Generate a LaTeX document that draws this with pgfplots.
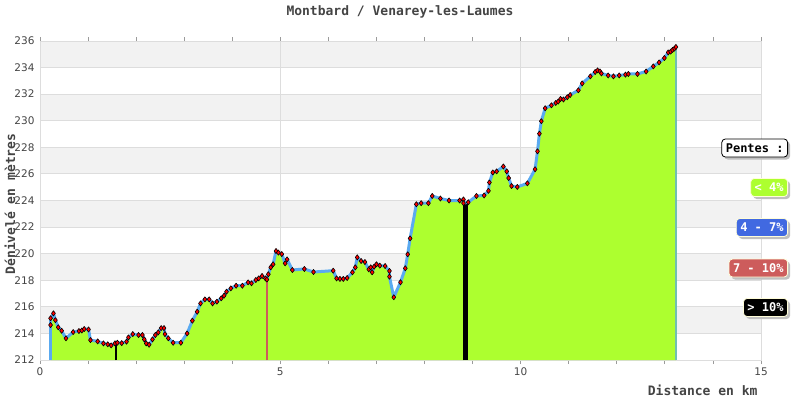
\documentclass[border=0pt]{standalone}
\usepackage{fontspec}
\setmainfont{DejaVu Sans}
\newfontfamily\monofont{DejaVu Sans Mono}
\usepackage{pgfplots}
\pgfplotsset{compat=1.18}
\usetikzlibrary{shadows}
\definecolor{fillgreen}{HTML}{ADFF2F}
\definecolor{lineblue}{HTML}{5AAAF0}
\definecolor{band}{HTML}{F2F2F2}
\definecolor{gridc}{HTML}{DDDDDD}
\definecolor{txt}{HTML}{444444}
\definecolor{redbar}{HTML}{CD5C5C}
\definecolor{royal}{HTML}{4169E1}
\definecolor{endline}{HTML}{70C0B0}
\pgfplotsset{set layers}
\tikzset{pill/.style={rounded corners=3.5pt, font=\monofont\bfseries\fontsize{12}{14}\selectfont, text=white, inner xsep=4pt, inner ysep=0pt, minimum height=18pt, anchor=east, draw=white!85!yellow, line width=0.8pt, drop shadow={shadow xshift=2.5pt, shadow yshift=-2.5pt, fill=black!25, opacity=1}}}
\begin{document}
\begin{tikzpicture}
\path (0pt,0pt) rectangle (800pt,400pt);
\begin{axis}[
  at={(40pt,40pt)}, anchor=south west, scale only axis,
  width=721pt, height=319pt,
  xmin=0, xmax=15, ymin=212, ymax=236,
  xtick={0,5,10,15}, minor xtick={1,2,3,4,6,7,8,9,11,12,13,14},
  ytick={212,214,...,236},
  xmajorgrids, ymajorgrids,
  grid style={draw=gridc, line width=1pt},
  tick align=outside, major tick length=4pt, minor tick length=4pt,
  ytick style={draw=none},
  xtick style={draw=gridc!70!black, line width=0.8pt},
  axis line style={draw=gridc, line width=1pt},
  tick label style={font=\fontsize{10.5}{12}\selectfont, text=txt},
  /pgf/number format/assume math mode=true,
  /pgf/number format/1000 sep={},
  yticklabel style={xshift=2pt},
  clip=false,
]
\begin{pgfonlayer}{axis background}
\fill[band] (axis cs:0,214) rectangle (axis cs:15,216);
\fill[band] (axis cs:0,218) rectangle (axis cs:15,220);
\fill[band] (axis cs:0,222) rectangle (axis cs:15,224);
\fill[band] (axis cs:0,226) rectangle (axis cs:15,228);
\fill[band] (axis cs:0,230) rectangle (axis cs:15,232);
\fill[band] (axis cs:0,234) rectangle (axis cs:15,236);
\end{pgfonlayer}
\addplot[fill=fillgreen, draw=none] table {
x y
0.22 214.63
0.22 215.14
0.28 215.51
0.32 215.00
0.38 214.46
0.45 214.20
0.54 213.63
0.69 214.10
0.81 214.18
0.87 214.22
0.92 214.33
1.01 214.30
1.05 213.50
1.20 213.40
1.32 213.25
1.41 213.18
1.48 213.10
1.56 213.25
1.61 213.30
1.70 213.27
1.80 213.38
1.84 213.70
1.93 213.95
2.05 213.88
2.13 213.88
2.17 213.55
2.21 213.25
2.27 213.15
2.34 213.55
2.40 213.88
2.46 214.08
2.52 214.40
2.58 214.40
2.60 213.95
2.67 213.63
2.77 213.30
2.93 213.30
3.06 214.00
3.17 214.96
3.27 215.63
3.34 216.26
3.43 216.56
3.52 216.56
3.59 216.26
3.68 216.39
3.77 216.64
3.83 216.84
3.88 217.14
3.97 217.39
4.08 217.59
4.21 217.59
4.33 217.84
4.40 217.77
4.49 218.02
4.55 218.14
4.62 218.32
4.69 218.14
4.72 218.05
4.75 218.45
4.80 218.97
4.85 219.20
4.91 220.20
4.96 220.08
5.03 219.97
5.10 219.27
5.14 219.57
5.25 218.77
5.50 218.85
5.69 218.62
6.10 218.72
6.17 218.14
6.24 218.10
6.31 218.10
6.39 218.17
6.50 218.60
6.56 218.97
6.60 219.72
6.68 219.45
6.76 219.37
6.84 218.82
6.88 218.97
6.91 218.60
6.95 219.02
7.00 219.20
7.07 219.10
7.18 219.07
7.27 218.70
7.27 218.27
7.36 216.72
7.50 217.85
7.60 218.90
7.65 219.95
7.70 221.15
7.83 223.72
7.93 223.80
8.08 223.80
8.16 224.34
8.33 224.15
8.51 224.00
8.73 224.00
8.81 224.08
8.81 223.80
8.91 223.87
9.08 224.34
9.24 224.38
9.33 224.73
9.35 225.36
9.42 226.11
9.50 226.19
9.64 226.56
9.71 226.19
9.75 225.69
9.81 225.09
9.93 225.02
10.14 225.29
10.30 226.35
10.35 227.70
10.39 229.03
10.43 229.97
10.51 230.94
10.64 231.16
10.73 231.34
10.78 231.44
10.83 231.64
10.89 231.60
10.97 231.77
11.03 231.94
11.20 232.29
11.28 232.81
11.45 233.34
11.55 233.67
11.60 233.79
11.65 233.71
11.68 233.56
11.82 233.41
11.93 233.34
12.05 233.41
12.18 233.47
12.24 233.52
12.43 233.52
12.61 233.71
12.76 234.09
12.88 234.39
12.99 234.72
13.07 235.14
13.12 235.20
13.16 235.33
13.20 235.43
13.23 235.55
} \closedcycle;
% slope bars
\addplot[black, line width=2pt] coordinates {(1.58,212) (1.58,213.25)};
\addplot[redbar, line width=2pt] coordinates {(4.72,212) (4.72,218.05)};
\addplot[black, line width=4.5pt] coordinates {(8.85,212) (8.85,223.82)};
% start / end verticals
\addplot[lineblue, line width=2.5pt] coordinates {(0.22,212) (0.22,214.63)};
\addplot[endline, line width=2pt] coordinates {(13.23,212) (13.23,235.55)};
\addplot[lineblue, line width=3pt, line join=round, mark=diamond*, mark size=2.6pt,
  mark options={fill=red, draw=black, line width=0.6pt}] table {
x y
0.22 214.63
0.22 215.14
0.28 215.51
0.32 215.00
0.38 214.46
0.45 214.20
0.54 213.63
0.69 214.10
0.81 214.18
0.87 214.22
0.92 214.33
1.01 214.30
1.05 213.50
1.20 213.40
1.32 213.25
1.41 213.18
1.48 213.10
1.56 213.25
1.61 213.30
1.70 213.27
1.80 213.38
1.84 213.70
1.93 213.95
2.05 213.88
2.13 213.88
2.17 213.55
2.21 213.25
2.27 213.15
2.34 213.55
2.40 213.88
2.46 214.08
2.52 214.40
2.58 214.40
2.60 213.95
2.67 213.63
2.77 213.30
2.93 213.30
3.06 214.00
3.17 214.96
3.27 215.63
3.34 216.26
3.43 216.56
3.52 216.56
3.59 216.26
3.68 216.39
3.77 216.64
3.83 216.84
3.88 217.14
3.97 217.39
4.08 217.59
4.21 217.59
4.33 217.84
4.40 217.77
4.49 218.02
4.55 218.14
4.62 218.32
4.69 218.14
4.72 218.05
4.75 218.45
4.80 218.97
4.85 219.20
4.91 220.20
4.96 220.08
5.03 219.97
5.10 219.27
5.14 219.57
5.25 218.77
5.50 218.85
5.69 218.62
6.10 218.72
6.17 218.14
6.24 218.10
6.31 218.10
6.39 218.17
6.50 218.60
6.56 218.97
6.60 219.72
6.68 219.45
6.76 219.37
6.84 218.82
6.88 218.97
6.91 218.60
6.95 219.02
7.00 219.20
7.07 219.10
7.18 219.07
7.27 218.70
7.27 218.27
7.36 216.72
7.50 217.85
7.60 218.90
7.65 219.95
7.70 221.15
7.83 223.72
7.93 223.80
8.08 223.80
8.16 224.34
8.33 224.15
8.51 224.00
8.73 224.00
8.81 224.08
8.81 223.80
8.91 223.87
9.08 224.34
9.24 224.38
9.33 224.73
9.35 225.36
9.42 226.11
9.50 226.19
9.64 226.56
9.71 226.19
9.75 225.69
9.81 225.09
9.93 225.02
10.14 225.29
10.30 226.35
10.35 227.70
10.39 229.03
10.43 229.97
10.51 230.94
10.64 231.16
10.73 231.34
10.78 231.44
10.83 231.64
10.89 231.60
10.97 231.77
11.03 231.94
11.20 232.29
11.28 232.81
11.45 233.34
11.55 233.67
11.60 233.79
11.65 233.71
11.68 233.56
11.82 233.41
11.93 233.34
12.05 233.41
12.18 233.47
12.24 233.52
12.43 233.52
12.61 233.71
12.76 234.09
12.88 234.39
12.99 234.72
13.07 235.14
13.12 235.20
13.16 235.33
13.20 235.43
13.23 235.55
};
\end{axis}
% titles and labels
\node[font=\monofont\bfseries\fontsize{13}{15}\selectfont, text=txt] at (400pt,388pt) {Montbard / Venarey-les-Laumes};
\node[font=\monofont\bfseries\fontsize{13}{15}\selectfont, text=txt, anchor=east] at (761pt,10pt) {Distance en km};
\node[font=\monofont\bfseries\fontsize{13}{15}\selectfont, text=txt, rotate=90] at (10pt,196pt) {Dénivelé en mètres};
% slope legend
\node[pill, fill=white, text=black, draw=black] at (788pt,252pt) {Pentes :};
\node[pill, fill=fillgreen] at (788pt,212.5pt) {< 4\%};
\node[pill, fill=royal] at (788pt,172.5pt) {4 - 7\%};
\node[pill, fill=redbar] at (788pt,132pt) {7 - 10\%};
\node[pill, fill=black] at (788pt,92.5pt) {> 10\%};
\end{tikzpicture}
\end{document}
